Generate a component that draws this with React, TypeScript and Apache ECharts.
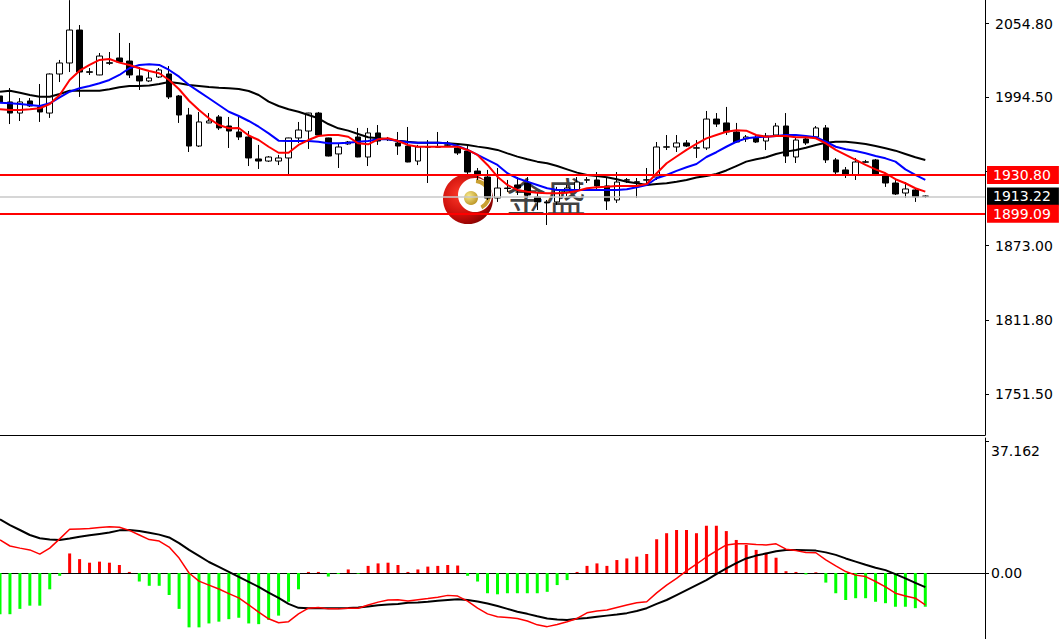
import React, { useEffect, useRef } from "react";
import * as echarts from "echarts";

// ---------- data ----------
const slotCount = 100; // 94 bars + empty space before the price scale
const categories = Array.from({ length: slotCount }, (_, i) => `B${i + 1}`);

// [open, close, low, high]
const candles: number[][] = [
  [1995.5, 1990.6, 1988.9, 2008.6], [1990.6, 1981.5, 1972.5, 2002.0], [1981.5, 1990.6, 1975.0, 1993.8], [1991.4, 1987.3, 1986.5, 1993.8],
  [1986.5, 1982.4, 1974.2, 2005.3], [1981.5, 2013.5, 1977.5, 2014.0], [2013.5, 2022.5, 2006.9, 2025.0], [2022.5, 2049.5, 2015.1, 2074.0],
  [2049.5, 2015.1, 1994.7, 2053.6], [2015.3, 2014.9, 2012.7, 2018.4], [2012.7, 2028.2, 2012.5, 2030.7], [2022.7, 2022.3, 2020.9, 2031.5],
  [2026.6, 2023.3, 2022.5, 2047.1], [2024.1, 2012.7, 2010.2, 2038.9], [2011.9, 2007.8, 2000.4, 2019.2], [2007.8, 2010.2, 2006.9, 2015.1],
  [2011.0, 2016.8, 2010.2, 2018.4], [2013.5, 1994.7, 1993.0, 2020.0], [1995.5, 1979.9, 1973.4, 1996.3], [1979.9, 1954.5, 1949.6, 1985.7],
  [1954.5, 1974.2, 1953.7, 1982.4], [1973.4, 1975.0, 1973.2, 1981.5], [1978.3, 1969.3, 1967.6, 1979.9], [1970.9, 1966.8, 1952.9, 1978.3],
  [1966.0, 1961.9, 1959.4, 1979.9], [1961.9, 1944.7, 1938.1, 1966.8], [1943.9, 1942.2, 1935.7, 1955.4], [1942.2, 1945.5, 1941.4, 1946.3],
  [1942.2, 1944.7, 1938.9, 1947.2], [1944.7, 1961.1, 1930.8, 1961.3], [1961.1, 1967.6, 1957.0, 1974.2], [1966.8, 1981.5, 1952.1, 1981.7],
  [1981.5, 1963.5, 1963.3, 1982.4], [1961.1, 1946.3, 1946.0, 1961.3], [1948.0, 1953.7, 1936.5, 1957.0], [1956.2, 1957.8, 1955.4, 1958.6],
  [1961.9, 1945.5, 1945.3, 1969.3], [1945.5, 1965.2, 1938.1, 1969.3], [1965.2, 1958.6, 1955.4, 1971.7], [1960.3, 1959.9, 1958.6, 1961.9],
  [1957.0, 1954.5, 1947.2, 1966.0], [1954.5, 1941.4, 1941.2, 1970.1], [1942.2, 1953.7, 1938.9, 1955.4], [1953.9, 1953.5, 1924.2, 1959.4],
  [1953.5, 1953.9, 1953.2, 1966.0], [1955.4, 1955.2, 1953.7, 1958.6], [1952.9, 1948.8, 1947.2, 1955.4], [1950.4, 1933.2, 1931.6, 1955.4],
  [1934.0, 1931.6, 1926.7, 1936.5], [1929.1, 1911.9, 1910.3, 1934.9], [1911.9, 1920.1, 1908.7, 1936.5], [1920.1, 1919.7, 1916.9, 1926.7],
  [1922.6, 1920.1, 1914.4, 1929.1], [1924.2, 1914.4, 1911.9, 1929.1], [1912.8, 1908.7, 1902.1, 1916.0], [1908.7, 1907.9, 1889.8, 1910.3],
  [1908.7, 1918.5, 1906.2, 1921.0], [1916.9, 1920.1, 1913.6, 1922.6], [1918.5, 1925.0, 1916.9, 1929.1], [1926.5, 1926.9, 1924.2, 1929.1],
  [1926.7, 1921.8, 1918.5, 1933.2], [1921.8, 1909.5, 1902.1, 1928.3], [1910.3, 1925.0, 1907.9, 1933.2], [1926.5, 1926.9, 1924.2, 1928.3],
  [1925.2, 1924.8, 1911.9, 1928.3], [1926.5, 1926.9, 1924.2, 1936.5], [1929.1, 1953.7, 1926.7, 1957.8], [1953.5, 1953.9, 1951.2, 1963.5],
  [1953.7, 1957.0, 1949.6, 1963.5], [1957.0, 1954.5, 1953.7, 1959.4], [1952.7, 1953.1, 1944.7, 1959.4], [1952.9, 1976.6, 1951.2, 1983.2],
  [1976.6, 1972.5, 1970.1, 1981.5], [1973.4, 1966.0, 1963.5, 1986.5], [1966.0, 1957.8, 1957.0, 1973.4], [1960.3, 1961.9, 1957.8, 1963.5],
  [1961.1, 1957.8, 1957.0, 1963.5], [1958.6, 1962.7, 1951.2, 1965.2], [1963.5, 1970.9, 1963.3, 1973.4], [1970.9, 1946.3, 1940.6, 1981.5],
  [1945.5, 1959.4, 1940.6, 1961.9], [1960.3, 1957.0, 1955.4, 1961.1], [1961.9, 1969.3, 1961.1, 1970.9], [1969.3, 1943.1, 1940.6, 1971.7],
  [1943.1, 1933.2, 1930.8, 1944.7], [1934.9, 1930.8, 1928.3, 1937.3], [1930.8, 1941.4, 1926.7, 1944.7], [1941.2, 1941.6, 1940.6, 1943.1],
  [1943.1, 1930.8, 1929.9, 1943.9], [1930.8, 1924.2, 1921.0, 1932.4], [1924.2, 1915.2, 1914.4, 1926.7], [1916.0, 1919.3, 1911.9, 1925.0],
  [1918.5, 1912.8, 1908.7, 1920.1], [1913.5, 1913.22, 1912.0, 1914.0],
];

const maFast = [
  1984.6, 1984.0, 1984.0, 1984.6, 1985.4, 1988.9, 1996.3, 2008.6, 2016.2, 2020.9,
  2025.0, 2025.8, 2022.8, 2020.9, 2018.2, 2016.0, 2014.1, 2008.6, 2001.0, 1991.6,
  1984.0, 1977.2, 1971.7, 1969.0, 1969.3, 1963.1, 1959.4, 1953.9, 1949.0, 1949.0,
  1955.4, 1959.4, 1962.7, 1963.5, 1963.5, 1962.1, 1956.7, 1955.9, 1960.0, 1960.8,
  1958.6, 1955.4, 1953.9, 1953.9, 1953.9, 1953.9, 1953.9, 1951.3, 1947.2, 1939.0,
  1929.4, 1922.6, 1918.5, 1917.1, 1916.3, 1915.8, 1915.8, 1916.3, 1917.7, 1919.9,
  1920.7, 1921.2, 1921.8, 1921.8, 1921.8, 1923.4, 1932.2, 1940.4, 1945.9, 1951.3,
  1956.2, 1960.8, 1963.5, 1966.2, 1967.4, 1967.1, 1963.5, 1962.1, 1962.7, 1962.7,
  1961.7, 1961.7, 1960.8, 1956.7, 1951.3, 1947.2, 1943.1, 1939.0, 1935.4, 1932.2,
  1927.3, 1924.0, 1919.9, 1917.1,
];

const maMid = [
  1990.0, 1989.5, 1988.9, 1988.1, 1987.3, 1989.5, 1994.4, 1999.0, 2001.8, 2003.7,
  2005.9, 2008.6, 2012.7, 2018.2, 2020.9, 2021.4, 2020.9, 2016.8, 2011.3, 2004.5,
  1999.0, 1993.6, 1988.1, 1982.6, 1979.1, 1975.0, 1970.3, 1964.9, 1958.9, 1958.6,
  1958.6, 1958.6, 1958.0, 1956.7, 1956.7, 1957.2, 1958.0, 1958.6, 1960.0, 1960.0,
  1958.6, 1957.6, 1957.2, 1957.2, 1957.2, 1956.7, 1954.5, 1951.3, 1947.2, 1943.1,
  1939.0, 1932.2, 1928.1, 1925.3, 1922.6, 1919.9, 1918.5, 1918.5, 1918.5, 1918.5,
  1918.5, 1918.5, 1918.5, 1919.1, 1920.7, 1922.6, 1928.1, 1930.8, 1934.1, 1937.1,
  1939.8, 1945.5, 1949.4, 1953.9, 1958.0, 1960.8, 1961.7, 1962.1, 1962.7, 1963.5,
  1963.5, 1962.7, 1961.7, 1958.0, 1953.9, 1951.8, 1950.4, 1948.6, 1946.3, 1944.4,
  1941.7, 1935.4, 1930.8, 1926.7,
];

const maSlow = [
  1999.0, 1999.8, 1998.2, 1996.3, 1994.9, 1994.9, 1997.1, 1999.8, 1999.8, 1999.8,
  1999.8, 2001.0, 2002.6, 2003.7, 2003.7, 2004.1, 2005.3, 2006.9, 2005.9, 2004.5,
  2003.7, 2002.9, 2002.3, 2001.8, 2001.2, 1999.6, 1996.3, 1990.8, 1987.3, 1984.6,
  1982.6, 1979.9, 1977.2, 1972.5, 1969.0, 1967.1, 1964.4, 1961.7, 1960.8, 1960.0,
  1958.9, 1958.0, 1957.2, 1957.2, 1957.2, 1956.7, 1956.2, 1955.4, 1954.0, 1952.9,
  1951.3, 1948.5, 1945.8, 1943.6, 1941.7, 1940.4, 1938.1, 1935.4, 1932.7, 1930.8,
  1929.9, 1928.9, 1927.3, 1925.3, 1924.0, 1922.6, 1923.4, 1924.0, 1925.3, 1926.7,
  1928.7, 1929.9, 1931.6, 1934.5, 1938.1, 1941.7, 1943.6, 1945.3, 1948.0, 1949.9,
  1951.3, 1953.1, 1955.4, 1957.2, 1958.0, 1958.0, 1957.2, 1956.2, 1954.5, 1952.6,
  1950.7, 1948.0, 1945.3, 1943.1,
];

const macdHist = [
  -11.6, -11.6, -10.1, -9.2, -9.2, -4.6, -0.8, 5.5, 3.9, 2.9,
  3.2, 2.9, 2.25, 0.3, -2.4, -3.6, -3.6, -6.2, -10.1, -15.3,
  -15.3, -14.2, -13.7, -13.0, -12.6, -14.2, -14.4, -13.2, -12.0, -8.1,
  -4.6, 0.3, 0.3, -1.0, -0.3, 1.0, -0.2, 2.0, 2.7, 2.9,
  2.25, 0.3, 1.0, 1.8, 2.0, 2.25, 2.1, -0.8, -2.4, -5.7,
  -6.0, -5.7, -5.7, -5.7, -5.7, -5.3, -3.4, -2.0, 0.3, 2.0,
  2.7, 2.0, 3.65, 4.1, 4.6, 5.35, 9.5, 11.2, 12.1, 12.1,
  11.2, 13.3, 13.3, 11.8, 9.3, 7.9, 6.5, 5.7, 4.3, 0.5,
  0.3, -0.4, 0.2, -2.7, -5.7, -7.6, -7.1, -7.1, -8.1, -8.5,
  -9.5, -9.5, -9.9, -9.5,
];

const macdDif = [
  9.3, 7.6, 7.0, 6.5, 5.3, 7.0, 9.6, 12.3, 12.4, 12.5,
  12.8, 13.0, 12.9, 12.0, 10.7, 9.4, 9.0, 7.3, 4.2, 0.0,
  -2.3, -3.4, -4.5, -5.8, -7.0, -9.0, -11.0, -12.9, -14.0, -13.7,
  -11.5, -9.9, -9.7, -10.1, -10.1, -9.9, -9.9, -9.0, -8.2, -7.6,
  -7.5, -7.9, -7.5, -7.2, -6.8, -6.3, -6.5, -7.9, -9.9, -11.5,
  -12.3, -12.5, -12.8, -13.5, -14.6, -15.1, -14.5, -13.7, -12.8, -11.2,
  -10.7, -10.4, -9.7, -9.0, -8.4, -8.1, -5.6, -3.4, -1.5, 0.6,
  2.5, 4.5, 6.2, 7.9, 8.2, 8.2, 8.0, 7.9, 8.2, 6.7,
  6.3, 5.8, 5.7, 3.7, 2.0, 0.4, -0.6, -1.0, -2.4, -3.9,
  -5.7, -6.5, -7.1, -9.0,
];

const macdDea = [
  15.1, 13.5, 12.1, 10.7, 9.8, 9.4, 9.3, 9.7, 10.2, 10.6,
  11.0, 11.4, 12.0, 12.1, 11.8, 11.3, 10.8, 10.0, 8.4, 6.5,
  4.8, 3.1, 1.7, 0.3, -1.1, -2.5, -3.9, -5.5, -7.0, -8.7,
  -9.8, -9.9, -9.9, -9.9, -9.9, -9.85, -9.7, -9.4, -9.1, -8.9,
  -8.7, -8.4, -8.3, -8.1, -7.8, -7.6, -7.4, -7.6, -8.0, -8.6,
  -9.3, -10.1, -10.9, -11.5, -12.2, -12.8, -13.1, -13.2, -12.9, -12.7,
  -12.3, -12.0, -11.7, -11.3, -10.7, -9.9, -8.7, -7.6, -6.2, -4.8,
  -3.4, -2.0, -0.3, 1.3, 2.8, 4.1, 4.9, 5.5, 6.1, 6.5,
  6.5, 6.4, 6.3, 5.8, 5.1, 4.1, 3.2, 2.3, 1.5, 0.8,
  -0.3, -1.5, -2.8, -4.0,
];

const priceTicks = [2054.8, 1994.5, 1933.8, 1873.0, 1811.8, 1751.5];
const priceTickLabels = [2054.8, 1994.5, 1873.0, 1811.8, 1751.5]; // 1933.80 sits under the 1930.80 tag
const macdTicks = [37.162, 0];
const macdTickLabels = ["37.162", "0.00"];
const resistanceLevel = 1930.8;
const supportLevel = 1899.09;
const lastPrice = 1913.22;

// scale ranges of the two panes
const priceMin = 1717.8;
const priceMax = 2074.1;
const macdMin = -18.58;
const macdMax = 38.0;

const FONT = "DejaVu Sans";

export default function App() {
  const ref = useRef<HTMLDivElement>(null);

  useEffect(() => {
    document.body.style.margin = "0";
    const chart = echarts.init(ref.current as HTMLDivElement, undefined, { renderer: "svg" });

    const levelLabel = (bg: string) => ({
      show: true,
      position: "end",
      distance: 2,
      formatter: (p: any) => Number(p.value).toFixed(2),
      color: "#ffffff",
      backgroundColor: bg,
      fontFamily: FONT,
      fontSize: 14,
      lineHeight: 14,
      padding: [4, 8, 0, 6],
    });

    const option: any = {
      animation: false,
      backgroundColor: "#ffffff",
      textStyle: { fontFamily: FONT },
      grid: [
        { left: 0, right: 74, top: 0, height: 435 },
        { left: 0, right: 74, top: 438, bottom: 0 },
      ],
      xAxis: [
        {
          type: "category",
          gridIndex: 0,
          data: categories,
          boundaryGap: false,
          axisLine: { show: true, lineStyle: { color: "#000", width: 1 } },
          axisTick: { show: false },
          axisLabel: { show: false },
          splitLine: { show: false },
        },
        {
          type: "category",
          gridIndex: 1,
          data: categories,
          position: "top",
          boundaryGap: false,
          axisLine: { show: true, lineStyle: { color: "#000", width: 1 } },
          axisTick: { show: false },
          axisLabel: { show: false },
          splitLine: { show: false },
        },
      ],
      yAxis: [
        {
          type: "value",
          gridIndex: 0,
          position: "right",
          min: priceMin,
          max: priceMax,
          axisLine: { show: true, lineStyle: { color: "#000", width: 1 } },
          axisTick: { show: true, customValues: priceTicks, length: 4, lineStyle: { color: "#000" } },
          axisLabel: {
            customValues: priceTickLabels,
            formatter: (v: number) => v.toFixed(2),
            margin: 10,
            color: "#000",
            fontFamily: FONT,
            fontSize: 14,
            padding: [4, 0, 0, 0],
          },
          splitLine: { show: false },
        },
        {
          type: "value",
          gridIndex: 1,
          position: "right",
          min: macdMin,
          max: macdMax,
          axisLine: { show: true, lineStyle: { color: "#000", width: 1 } },
          axisTick: { show: true, customValues: macdTicks, length: 4, lineStyle: { color: "#000" } },
          axisLabel: {
            customValues: macdTicks,
            formatter: (v: number) => {
              const idx = macdTicks.findIndex((t) => Math.abs(t - v) < 1e-6);
              const txt = idx >= 0 ? macdTickLabels[idx] : String(v);
              return idx === 0 ? `{top|${txt}}` : txt;
            },
            margin: 6,
            color: "#000",
            fontFamily: FONT,
            fontSize: 14,
            rich: {
              top: { padding: [20, 0, 0, 0], fontFamily: FONT, fontSize: 14, color: "#000" },
            },
          },
          splitLine: { show: false },
        },
      ],
      graphic: [
        {
          type: "circle",
          z: 1.5,
          shape: { cx: 468, cy: 199, r: 25 },
          style: {
            fill: {
              type: "radial", x: 0.35, y: 0.4, r: 0.75,
              colorStops: [
                { offset: 0, color: "#ff3a2a" },
                { offset: 0.6, color: "#c80c08" },
                { offset: 1, color: "#6e0000" },
              ],
            },
          },
        },
        { type: "circle", z: 1.6, shape: { cx: 475, cy: 195, r: 17 }, style: { fill: "#ffffff" } },
        {
          type: "arc",
          z: 1.7,
          shape: { cx: 475, cy: 195, r: 14, startAngle: -1.5, endAngle: 1.1 },
          style: { stroke: "#c9a032", lineWidth: 4, fill: "none" },
        },
        {
          type: "circle",
          z: 1.7,
          shape: { cx: 471, cy: 198, r: 7 },
          style: {
            fill: {
              type: "radial", x: 0.35, y: 0.35, r: 0.8,
              colorStops: [
                { offset: 0, color: "#f7e98a" },
                { offset: 1, color: "#b48a18" },
              ],
            },
          },
        },
        {
          type: "text",
          z: 1.5,
          x: 506,
          y: 195,
          style: {
            text: "金盛",
            fill: "#1e1e1e",
            opacity: 0.85,
            fontSize: 40,
            fontFamily: "Noto Sans CJK SC",
            verticalAlign: "middle",
            align: "left",
          },
        },
      ],
      series: [
        {
          name: "levels",
          type: "line",
          xAxisIndex: 0,
          yAxisIndex: 0,
          data: [],
          z: 1,
          silent: true,
          markLine: {
            silent: true,
            animation: false,
            symbol: ["none", "none"],
            data: [
              {
                yAxis: resistanceLevel,
                lineStyle: { color: "#ff0000", width: 2, type: "solid" },
                label: levelLabel("#ff0000"),
              },
              {
                yAxis: lastPrice,
                lineStyle: { color: "#c8c8c8", width: 1.5, type: "solid" },
                label: levelLabel("#000000"),
              },
              {
                yAxis: supportLevel,
                lineStyle: { color: "#ff0000", width: 2, type: "solid" },
                label: levelLabel("#ff0000"),
              },
            ],
          },
        },
        {
          name: "K",
          type: "candlestick",
          xAxisIndex: 0,
          yAxisIndex: 0,
          data: candles,
          barWidth: 6,
          z: 3,
          itemStyle: {
            color: "#ffffff",
            color0: "#000000",
            borderColor: "#000000",
            borderColor0: "#000000",
            borderWidth: 1,
          },
        },
        {
          name: "MA20", type: "line", xAxisIndex: 0, yAxisIndex: 0, data: maSlow, z: 4,
          symbol: "none", lineStyle: { color: "#000000", width: 2 },
        },
        {
          name: "MA10", type: "line", xAxisIndex: 0, yAxisIndex: 0, data: maMid, z: 4,
          symbol: "none", lineStyle: { color: "#0000ff", width: 2 },
        },
        {
          name: "MA5", type: "line", xAxisIndex: 0, yAxisIndex: 0, data: maFast, z: 4,
          symbol: "none", lineStyle: { color: "#ff0000", width: 2 },
        },
        {
          name: "MACD", type: "bar", xAxisIndex: 1, yAxisIndex: 1, data: macdHist, barWidth: 3, z: 2,
          itemStyle: { color: (p: any) => (p.value >= 0 ? "#ff0000" : "#00ff00") },
        },
        {
          name: "DEA", type: "line", xAxisIndex: 1, yAxisIndex: 1, data: macdDea, z: 3,
          symbol: "none", lineStyle: { color: "#000000", width: 2 },
        },
        {
          name: "DIF", type: "line", xAxisIndex: 1, yAxisIndex: 1, data: macdDif, z: 4,
          symbol: "none", lineStyle: { color: "#ff0000", width: 1.5 },
        },
      ],
    };

    chart.setOption(option);
    return () => chart.dispose();
  }, []);

  return <div ref={ref} style={{ width: 1059, height: 639 }} />;
}
